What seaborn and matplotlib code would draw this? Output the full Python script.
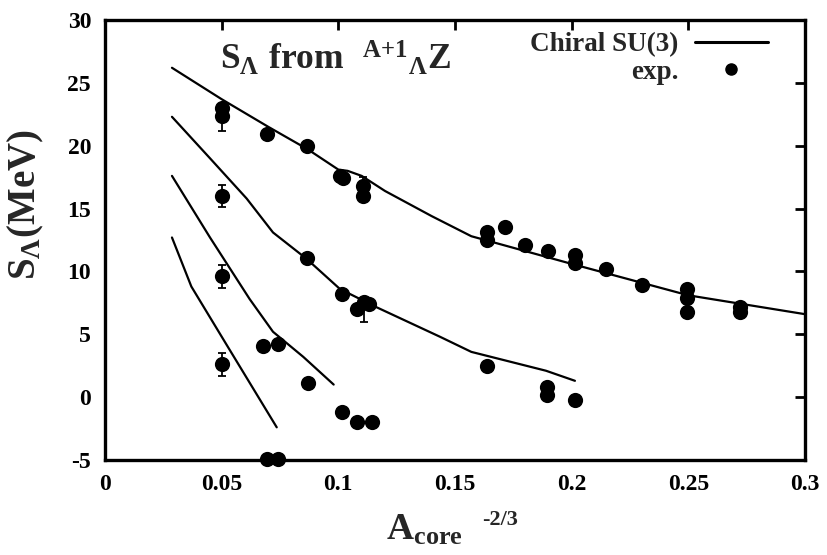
import numpy as np
import pandas as pd
import matplotlib
matplotlib.use("Agg")
import matplotlib.pyplot as plt
import seaborn as sns
from matplotlib.lines import Line2D

# ---- theory curves (Chiral SU(3)) ----
c1_x = [0.0287, 0.05, 0.07, 0.087, 0.100, 0.104, 0.110, 0.120, 0.140, 0.157, 0.200, 0.250, 0.300]
c1_y = [26.2, 23.7, 21.5, 19.7, 18.1, 18.0, 17.6, 16.4, 14.4, 12.8, 10.6, 8.1, 6.6]
c2_x = [0.0287, 0.045, 0.0607, 0.072, 0.0864, 0.1007, 0.1164, 0.1436, 0.157, 0.189, 0.2014]
c2_y = [22.3, 19.0, 15.8, 13.1, 11.0, 8.6, 7.15, 4.8, 3.6, 2.1, 1.3]
c3_x = [0.0287, 0.045, 0.062, 0.072, 0.085, 0.098]
c3_y = [17.6, 12.7, 7.8, 5.2, 3.2, 1.0]
c4_x = [0.0287, 0.037, 0.052, 0.0736]
c4_y = [12.7, 8.8, 4.2, -2.4]

# ---- experimental points ----
e1_x = [0.05, 0.05, 0.0693, 0.0864, 0.1005, 0.1020, 0.1107, 0.1107, 0.1636, 0.1636, 0.1714,
        0.180, 0.190, 0.2014, 0.2014, 0.2147, 0.230, 0.2493, 0.2493, 0.2493, 0.2721, 0.2721]
e1_y = [22.4, 23.0, 20.9, 20.0, 17.6, 17.4, 16.8, 16.0, 13.1, 12.5, 13.5,
        12.1, 11.6, 11.3, 10.7, 10.2, 8.9, 8.6, 7.9, 6.8, 7.2, 6.8]
e2_x = [0.05, 0.0864, 0.1014, 0.108, 0.111, 0.113, 0.1636, 0.1893, 0.1893, 0.2014]
e2_y = [16.0, 11.1, 8.2, 7.0, 7.6, 7.4, 2.5, 0.8, 0.2, -0.2]
e3_x = [0.05, 0.0679, 0.0743, 0.0871, 0.1014, 0.1079, 0.1143]
e3_y = [9.6, 4.1, 4.2, 1.1, -1.2, -2.0, -2.0]
e4_x = [0.05, 0.0693, 0.0743]
e4_y = [2.6, -4.9, -4.9]

# error bars (only noticeable ones)
err_x = [0.05, 0.05, 0.05, 0.05, 0.1107, 0.111]
err_y = [22.4, 16.0, 9.6, 2.6, 16.4, 7.3]
err_lo = [1.2, 0.9, 0.9, 0.9, 0.8, 1.3]
err_hi = [0.5, 0.9, 0.9, 0.9, 1.1, 0.5]

x_ticks = [0, 0.05, 0.1, 0.15, 0.2, 0.25, 0.3]
x_ticklabels = ["0", "0.05", "0.1", "0.15", "0.2", "0.25", "0.3"]
y_ticks = [-5, 0, 5, 10, 15, 20, 25, 30]
y_ticklabels = ["-5", "0", "5", "10", "15", "20", "25", "30"]

curves = pd.concat([
    pd.DataFrame({"x": c1_x, "y": c1_y, "curve": "c1"}),
    pd.DataFrame({"x": c2_x, "y": c2_y, "curve": "c2"}),
    pd.DataFrame({"x": c3_x, "y": c3_y, "curve": "c3"}),
    pd.DataFrame({"x": c4_x, "y": c4_y, "curve": "c4"}),
])
exp = pd.DataFrame({"x": e1_x + e2_x + e3_x + e4_x, "y": e1_y + e2_y + e3_y + e4_y})

sns.set_style("white")
plt.rcParams["font.family"] = ["Liberation Serif", "DejaVu Serif"]
plt.rcParams["font.weight"] = "bold"
plt.rcParams["axes.unicode_minus"] = False
plt.rcParams["mathtext.fontset"] = "custom"
plt.rcParams["mathtext.rm"] = "Liberation Serif:bold"
plt.rcParams["mathtext.it"] = "Liberation Serif:bold"
plt.rcParams["mathtext.bf"] = "Liberation Serif:bold"

fig = plt.figure(figsize=(8.27, 5.55), dpi=100)
ax = fig.add_axes([105 / 827, 1 - 460 / 555, 700 / 827, 440 / 555])

for name, grp in curves.groupby("curve"):
    sns.lineplot(data=grp, x="x", y="y", ax=ax, sort=False, estimator=None,
                 color="black", linewidth=1.6, legend=False)

ax.errorbar(err_x, err_y, yerr=[err_lo, err_hi], fmt="none", ecolor="black",
            elinewidth=1.3, capsize=3, capthick=1.3, zorder=3)
sns.scatterplot(data=exp, x="x", y="y", ax=ax, color="black", s=120,
                edgecolor="black", linewidth=0, zorder=4, clip_on=False, legend=False)

ax.set_xlim(0, 0.3)
ax.set_ylim(-5, 30)
ax.set_xticks(x_ticks)
ax.set_xticklabels(x_ticklabels)
ax.set_yticks(y_ticks)
ax.set_yticklabels(y_ticklabels)
ax.tick_params(direction="in", length=7, width=2, top=True, right=True,
               labelsize=17, pad=10, colors="black")
for lbl in ax.get_xticklabels() + ax.get_yticklabels():
    lbl.set_fontweight("bold")
for sp in ax.spines.values():
    sp.set_linewidth(2.4)
    sp.set_color("black")

# x label: A_core with raised exponent
ax.set_xlabel(r"$\mathbf{A_{core}}$", fontsize=27)
ax.xaxis.set_label_coords(0.456, -0.12)
ax.text(0.539, -0.148, "-2/3", transform=ax.transAxes, fontsize=16,
        fontweight="bold", ha="left", va="baseline", clip_on=False)

ax.set_ylabel(r"$\mathbf{S_{\Lambda}(MeV)}$", fontsize=28)
ax.yaxis.set_label_coords(-0.084, 0.58)

ax.text(0.164, 0.886, r"$\mathbf{S_{\Lambda}\ from\ \ {}^{A{+}1}{}_{\Lambda}Z}$",
        transform=ax.transAxes, fontsize=25.5, va="baseline", ha="left")

handles = [Line2D([], [], color="black", linewidth=2.2),
           Line2D([], [], color="black", marker="o", markersize=8, linestyle="none")]
leg = ax.legend(handles, ["Chiral SU(3)", "exp."], loc="upper right",
                bbox_to_anchor=(1 - 37 / 700, 1 - 12 / 440), frameon=False,
                markerfirst=False, fontsize=19.5, handlelength=2.7,
                handletextpad=0.6, labelspacing=0.1, borderpad=0, borderaxespad=0)
for t in leg.get_texts():
    t.set_fontweight("bold")

fig.savefig("out.png", dpi=100)
